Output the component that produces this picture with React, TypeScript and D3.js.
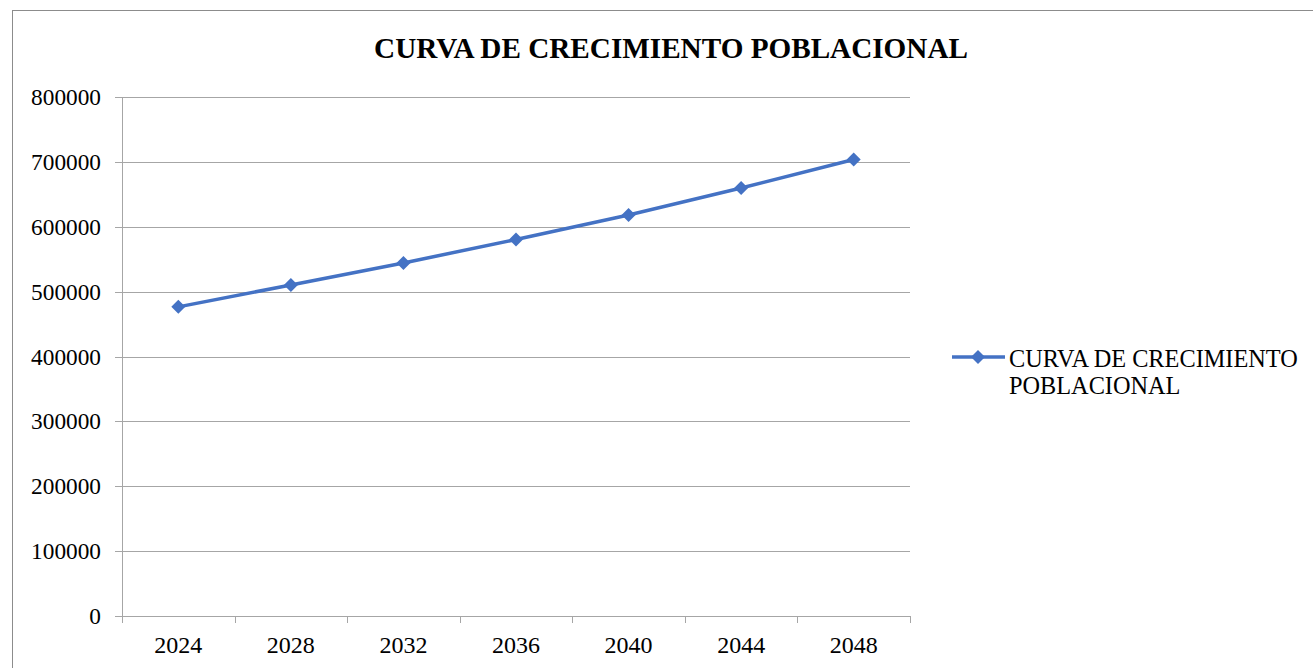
import React from "react";
import * as d3 from "d3";

const years = ["2024", "2028", "2032", "2036", "2040", "2044", "2048"];
const population = [476500, 510300, 544200, 580300, 618200, 659700, 703700];
const yTicks = [0, 100000, 200000, 300000, 400000, 500000, 600000, 700000, 800000];
const seriesName = "CURVA DE CRECIMIENTO POBLACIONAL";
const titleText = "CURVA DE CRECIMIENTO POBLACIONAL";

const W = 1313;
const H = 668;
const plot = { left: 122, right: 910, top: 97, bottom: 616 };
const blue = "#4472C4";
const grid = "#A6A6A6";
const font = "'Liberation Serif', 'Times New Roman', serif";

function Diamond({ x, y, r }: { x: number; y: number; r: number }) {
  return <path d={`M${x},${y - r}L${x + r},${y}L${x},${y + r}L${x - r},${y}Z`} fill={blue} />;
}

export default function App() {
  const x = d3.scaleBand<string>().domain(years).range([plot.left, plot.right]).padding(0);
  const y = d3.scaleLinear().domain([0, 800000]).range([plot.bottom, plot.top]);
  const line = d3
    .line<number>()
    .x((_, i) => (x(years[i]) as number) + x.bandwidth() / 2)
    .y((d) => y(d));
  const xTickPos = years.map((yr) => x(yr) as number).concat([plot.right]);

  return (
    <svg
      width={W}
      height={H}
      style={{ position: "absolute", left: 0, top: 0, background: "#fff" }}
      fontFamily={font}
    >
      <rect x={12.5} y={10.5} width={W + 10} height={H + 20} fill="#fff" stroke="#8C8C8C" strokeWidth={1} />
      <text x={671} y={58} textAnchor="middle" fontSize={29.2} fontWeight="bold" fill="#000">
        {titleText}
      </text>
      {yTicks.map((t) => (
        <g key={t}>
          <line x1={plot.left - 7} x2={plot.right} y1={Math.round(y(t)) + 0.5} y2={Math.round(y(t)) + 0.5} stroke={grid} strokeWidth={1} />
          <text x={101} y={y(t) + 8} textAnchor="end" fontSize={23.3} fill="#000">
            {t}
          </text>
        </g>
      ))}
      <line x1={plot.left + 0.5} x2={plot.left + 0.5} y1={plot.top} y2={plot.bottom} stroke={grid} />
      {xTickPos.map((p, i) => (
        <line key={i} x1={Math.round(p) + 0.5} x2={Math.round(p) + 0.5} y1={plot.bottom} y2={plot.bottom + 7} stroke={grid} />
      ))}
      {years.map((yr) => (
        <text key={yr} x={(x(yr) as number) + x.bandwidth() / 2} y={653} textAnchor="middle" fontSize={24} fill="#000">
          {yr}
        </text>
      ))}
      <path d={line(population) || ""} fill="none" stroke={blue} strokeWidth={3.5} />
      {population.map((v, i) => (
        <Diamond key={i} x={(x(years[i]) as number) + x.bandwidth() / 2} y={y(v)} r={7} />
      ))}
      <line x1={952} x2={1005} y1={357} y2={357} stroke={blue} strokeWidth={3.5} />
      <Diamond x={978} y={357} r={7} />
      <text x={1009} y={367} fontSize={24.3} fill="#000">
        <tspan x={1009}>{seriesName.split(" ").slice(0, 3).join(" ")}</tspan>
        <tspan x={1009} dy={27}>{seriesName.split(" ").slice(3).join(" ")}</tspan>
      </text>
    </svg>
  );
}
